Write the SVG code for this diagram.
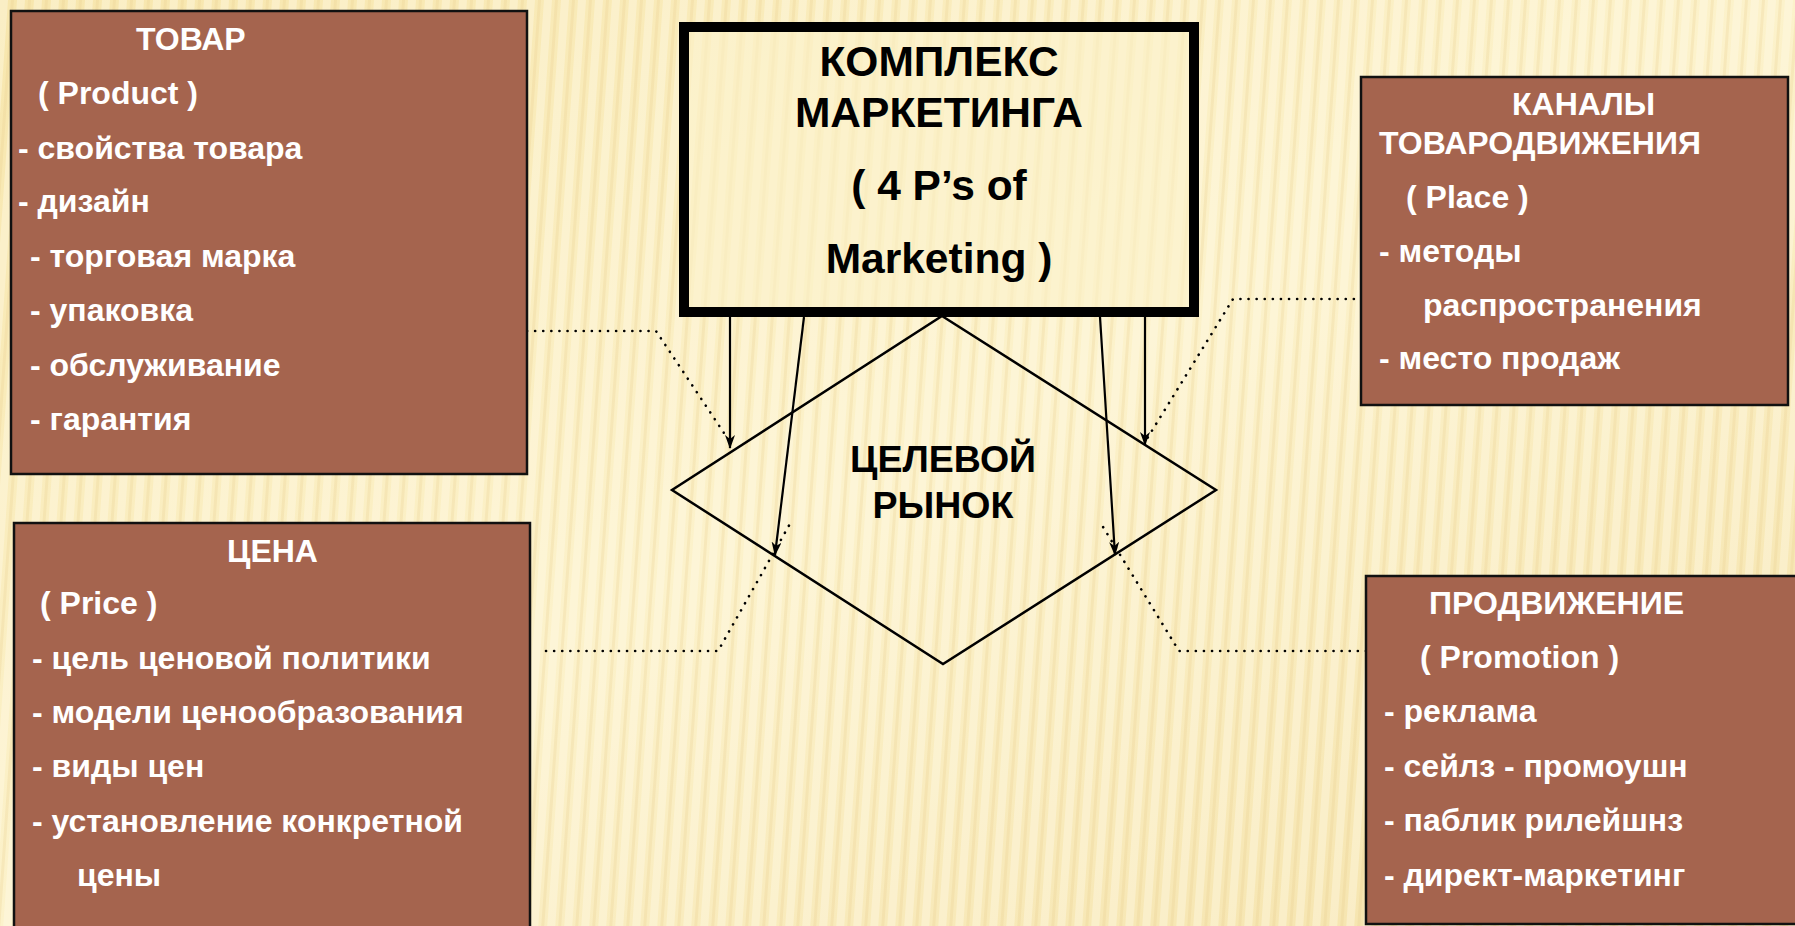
<svg xmlns="http://www.w3.org/2000/svg" width="1795" height="926" viewBox="0 0 1795 926">
<defs>
<linearGradient id="bg" x1="0" y1="0" x2="1" y2="1">
<stop offset="0" stop-color="#f7e6ad"/>
<stop offset="0.5" stop-color="#fcf2cb"/>
<stop offset="1" stop-color="#f4e1a8"/>
</linearGradient>
<pattern id="stripes" width="17" height="926" patternUnits="userSpaceOnUse" patternTransform="skewX(-4)">
<rect x="0" y="0" width="8" height="926" fill="#fffbe8" opacity="0.4"/>
<rect x="11" y="0" width="3" height="926" fill="#e6cc8a" opacity="0.25"/>
</pattern>
<marker id="arr" viewBox="0 0 14 10" refX="13" refY="5" markerWidth="14" markerHeight="10" markerUnits="userSpaceOnUse" orient="auto">
<path d="M0,0 L14,5 L0,10 L4,5 z" fill="#000"/>
</marker>
<style>
.box{fill:#a5644e;stroke:#111;stroke-width:2.5}
.wt{font-family:"Liberation Sans",Arial,sans-serif;font-weight:bold;font-size:32px;fill:#fff}
.bt{font-family:"Liberation Sans",Arial,sans-serif;font-weight:bold;fill:#000}
.solid{fill:none;stroke:#000;stroke-width:2.2}
.dot{fill:none;stroke:#000;stroke-width:2.6;stroke-linecap:round;stroke-dasharray:0.1 8}
</style>
</defs>
<rect width="1795" height="926" fill="url(#bg)"/>
<rect width="1795" height="926" fill="url(#stripes)"/>

<g id="connectors">
<line class="solid" x1="730" y1="317" x2="730" y2="448" marker-end="url(#arr)"/>
<line class="solid" x1="804" y1="317" x2="775" y2="555" marker-end="url(#arr)"/>
<line class="solid" x1="1100" y1="317" x2="1115" y2="555" marker-end="url(#arr)"/>
<line class="solid" x1="1145" y1="317" x2="1145" y2="445" marker-end="url(#arr)"/>
<polyline class="dot" points="527,331 656,331 730,442"/>
<polyline class="dot" points="1362,299 1233,299 1145,442"/>
<polyline class="dot" points="546,651 718,651 791,522"/>
<polyline class="dot" points="1366,651 1179,651 1100,522"/>
</g>

<g id="center">
<rect x="684" y="27" width="510" height="285" fill="#fcf1c9" fill-opacity="0.6" stroke="#000" stroke-width="10"/>
<text class="bt" font-size="42.5" text-anchor="middle" x="939" y="76">КОМПЛЕКС</text>
<text class="bt" font-size="42.5" text-anchor="middle" x="939" y="127">МАРКЕТИНГА</text>
<text class="bt" font-size="42.5" text-anchor="middle" x="939" y="200">( 4 P’s of</text>
<text class="bt" font-size="42.5" text-anchor="middle" x="939" y="273">Marketing )</text>
</g>

<g id="target">
<polygon points="942,316 1216,490 943,664 672,490" fill="none" stroke="#000" stroke-width="2.5"/>
<text class="bt" font-size="37.5" text-anchor="middle" x="943" y="472">ЦЕЛЕВОЙ</text>
<text class="bt" font-size="37.5" text-anchor="middle" x="943" y="518">РЫНОК</text>
</g>

<g id="product">
<rect class="box" x="11" y="11" width="516" height="463"/>
<text class="wt" x="136" y="50">ТОВАР</text>
<text class="wt" x="38" y="104">( Product )</text>
<text class="wt" x="18" y="159">- свойства товара</text>
<text class="wt" x="18" y="212">- дизайн</text>
<text class="wt" x="30" y="267">- торговая марка</text>
<text class="wt" x="30" y="321">- упаковка</text>
<text class="wt" x="30" y="376">- обслуживание</text>
<text class="wt" x="30" y="430">- гарантия</text>
</g>

<g id="place">
<rect class="box" x="1361" y="77" width="427" height="328"/>
<text class="wt" x="1512" y="115">КАНАЛЫ</text>
<text class="wt" x="1379" y="154">ТОВАРОДВИЖЕНИЯ</text>
<text class="wt" x="1406" y="208">( Place )</text>
<text class="wt" x="1379" y="262">- методы</text>
<text class="wt" x="1423" y="316">распространения</text>
<text class="wt" x="1379" y="369">- место продаж</text>
</g>

<g id="price">
<rect class="box" x="14" y="523" width="516" height="420"/>
<text class="wt" x="227" y="562">ЦЕНА</text>
<text class="wt" x="40" y="614">( Price )</text>
<text class="wt" x="32" y="669">- цель ценовой политики</text>
<text class="wt" x="32" y="723">- модели ценообразования</text>
<text class="wt" x="32" y="777">- виды цен</text>
<text class="wt" x="32" y="832">- установление конкретной</text>
<text class="wt" x="77" y="886">цены</text>
</g>

<g id="promotion">
<rect class="box" x="1366" y="576" width="450" height="348"/>
<text class="wt" x="1429" y="614">ПРОДВИЖЕНИЕ</text>
<text class="wt" x="1420" y="668">( Promotion )</text>
<text class="wt" x="1384" y="722">- реклама</text>
<text class="wt" x="1384" y="777">- сейлз - промоушн</text>
<text class="wt" x="1384" y="831">- паблик рилейшнз</text>
<text class="wt" x="1384" y="886">- директ-маркетинг</text>
</g>
</svg>
